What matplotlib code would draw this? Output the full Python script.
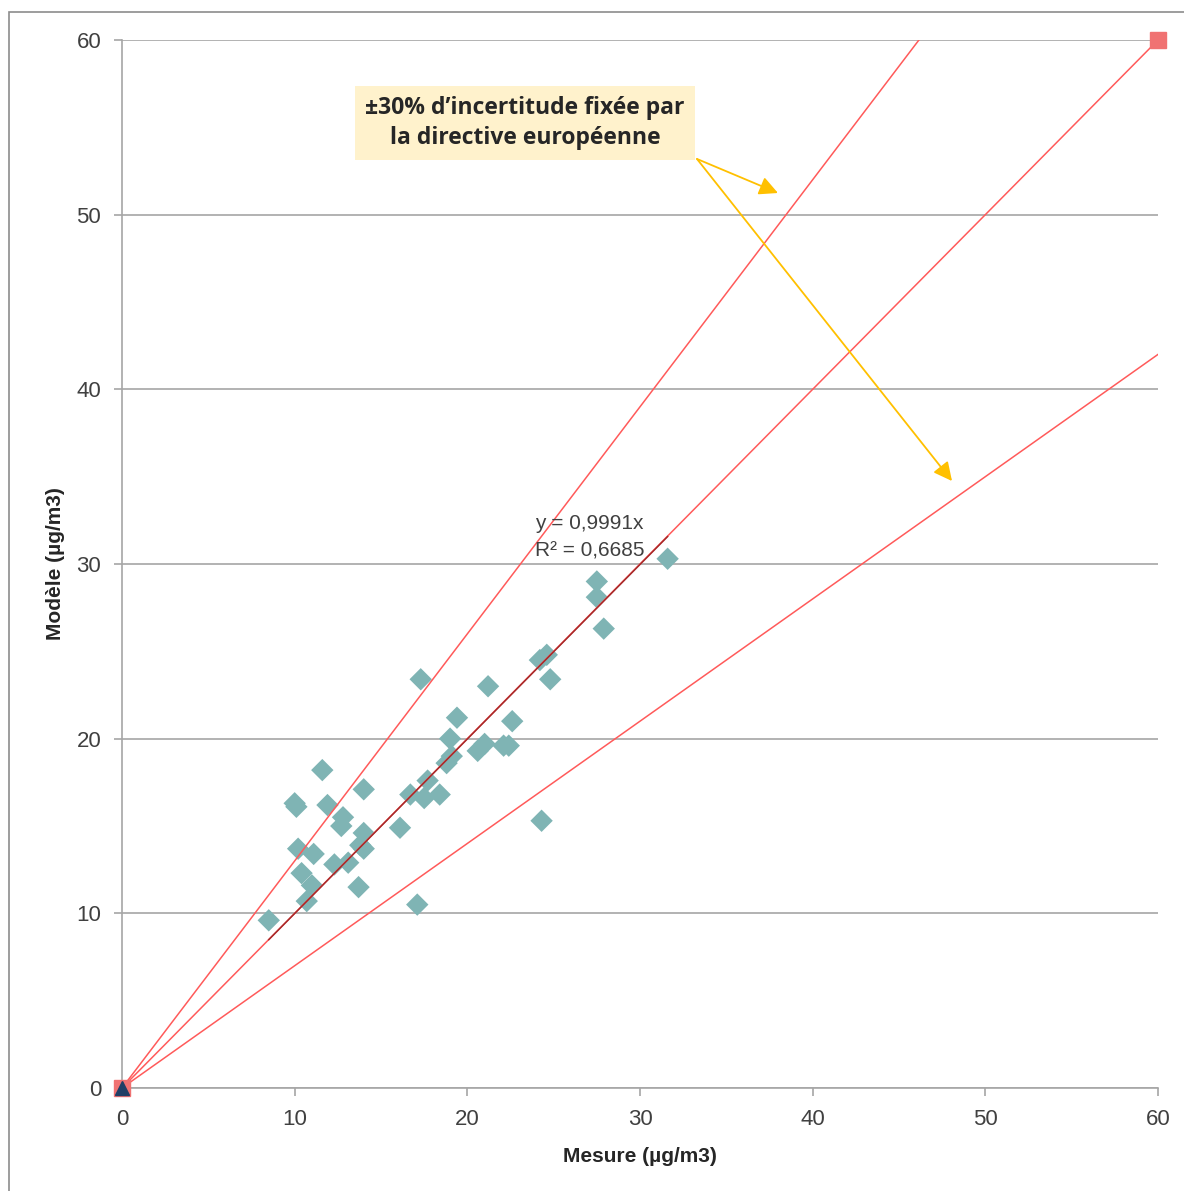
import matplotlib
matplotlib.use('Agg')
import matplotlib.pyplot as plt
from matplotlib.patches import Rectangle
import numpy as np

# ── data ───────────────────────────────────────────────────────────────────────
MESURE = [8.5, 10.0, 10.1, 10.2, 10.4, 10.7, 11.0, 11.1, 11.6, 11.9,
          12.3, 12.7, 12.8, 13.1, 13.7, 13.8, 14.0, 14.0, 14.0, 16.1,
          16.7, 17.1, 17.3, 17.5, 17.7, 18.4, 18.8, 19.0, 19.1, 19.4,
          20.6, 21.0, 21.2, 22.1, 22.4, 22.6, 24.2, 24.3, 24.6, 24.8,
          27.5, 27.5, 27.9, 31.6]
MODELE = [9.6, 16.3, 16.1, 13.7, 12.3, 10.7, 11.6, 13.4, 18.2, 16.2,
          12.8, 15.0, 15.5, 12.9, 11.5, 13.9, 14.6, 13.7, 17.1, 14.9,
          16.8, 10.5, 23.4, 16.6, 17.6, 16.8, 18.6, 20.0, 19.0, 21.2,
          19.3, 19.7, 23.0, 19.6, 19.6, 21.0, 24.5, 15.3, 24.8, 23.4,
          29.0, 28.1, 26.3, 30.3]

SLOPES = [1.3, 1.0, 0.7]          # ±30 % envelope and 1:1 line
TREND_SLOPE = 0.9991
R2 = 0.6685
LIMIT = 60

TICKS = [0, 10, 20, 30, 40, 50, 60]

SANS = ['Liberation Sans', 'DejaVu Sans']
GRAY = '#a6a6a6'

fig = plt.figure(figsize=(11.84, 11.91), dpi=100)
ax = fig.add_axes([122 / 1184, 103 / 1191, 1036 / 1184, 1048 / 1191])

# outer chart frame (only left/top edges visible in the reference)
fig.patches.append(Rectangle((9 / 1184, -0.1), 1.2, 1.1 - 12 / 1191,
                             transform=fig.transFigure, fill=False,
                             edgecolor='#8c8c8c', linewidth=1.2))

# envelope lines
for s in SLOPES:
    x_end = min(LIMIT, LIMIT / s)
    ax.plot([0, x_end], [0, s * x_end], color='#ff5a5a', linewidth=1.1, zorder=3)

ax.scatter(MESURE, MODELE, marker='D', s=130, color='#7fb4b4',
           edgecolors='none', zorder=2)

# linear trend through origin
xt = np.array([min(MESURE), max(MESURE)])
ax.plot(xt, TREND_SLOPE * xt, color='#a52a2a', linewidth=1.1, zorder=4)
ax.text(23.9, 32.3, f'y = {TREND_SLOPE:.4f}x'.replace('.', ','),
        fontsize=15, family=SANS, color='#404040',
        ha='left', va='center', zorder=5)
ax.text(23.9, 30.75, f'R² = {R2:.4f}'.replace('.', ','),
        fontsize=15, family=SANS, color='#404040',
        ha='left', va='center', zorder=5)

# end markers
ax.plot([0, LIMIT], [0, LIMIT], linestyle='none', marker='s', markersize=12,
        color='#f07272', zorder=6, clip_on=False)
ax.plot([0], [0], linestyle='none', marker='^', markersize=10,
        color='#1f3f66', zorder=7, clip_on=False)

# annotation box + arrows
ax.text(23.34, 55.25, '±30% d\u2019incertitude fixée par\nla directive européenne',
        fontsize=16.5, fontweight='bold', family=['Open Sans', 'DejaVu Sans'],
        color='#262626', ha='center', va='center', linespacing=1.3, zorder=8,
        bbox=dict(boxstyle='square,pad=0.45', facecolor='#fff2cc', edgecolor='none'))
for tip in [(37.99, 51.24), (48.07, 34.75)]:
    ax.annotate('', xy=tip, xytext=(33.3, 53.19), zorder=8,
                arrowprops=dict(arrowstyle='-|>', color='#ffc000', lw=1.3,
                                mutation_scale=28, shrinkA=0, shrinkB=0))

ax.set_xlim(0, LIMIT)
ax.set_ylim(0, LIMIT)
ax.set_xticks(TICKS)
ax.set_yticks(TICKS)
ax.grid(axis='y', color=GRAY, linewidth=1.2, zorder=0)
ax.set_axisbelow(True)
for side in ['top', 'right']:
    ax.spines[side].set_visible(False)
for side in ['left', 'bottom']:
    ax.spines[side].set_color(GRAY)
    ax.spines[side].set_linewidth(1.2)
ax.tick_params(axis='both', direction='out', length=6, width=1.2, color=GRAY,
               pad=9, labelsize=16, labelcolor='#404040')
for lab in ax.get_xticklabels() + ax.get_yticklabels():
    lab.set_family(SANS)

ax.set_xlabel('Mesure (µg/m3)', fontsize=15, fontweight='bold',
              family=SANS, color='#262626')
ax.set_ylabel('Modèle (µg/m3)', fontsize=15, fontweight='bold',
              family=SANS, color='#262626')
ax.xaxis.set_label_coords(0.5, -0.056)
ax.yaxis.set_label_coords(-0.055, 0.5)

fig.savefig('out.png', dpi=100)
